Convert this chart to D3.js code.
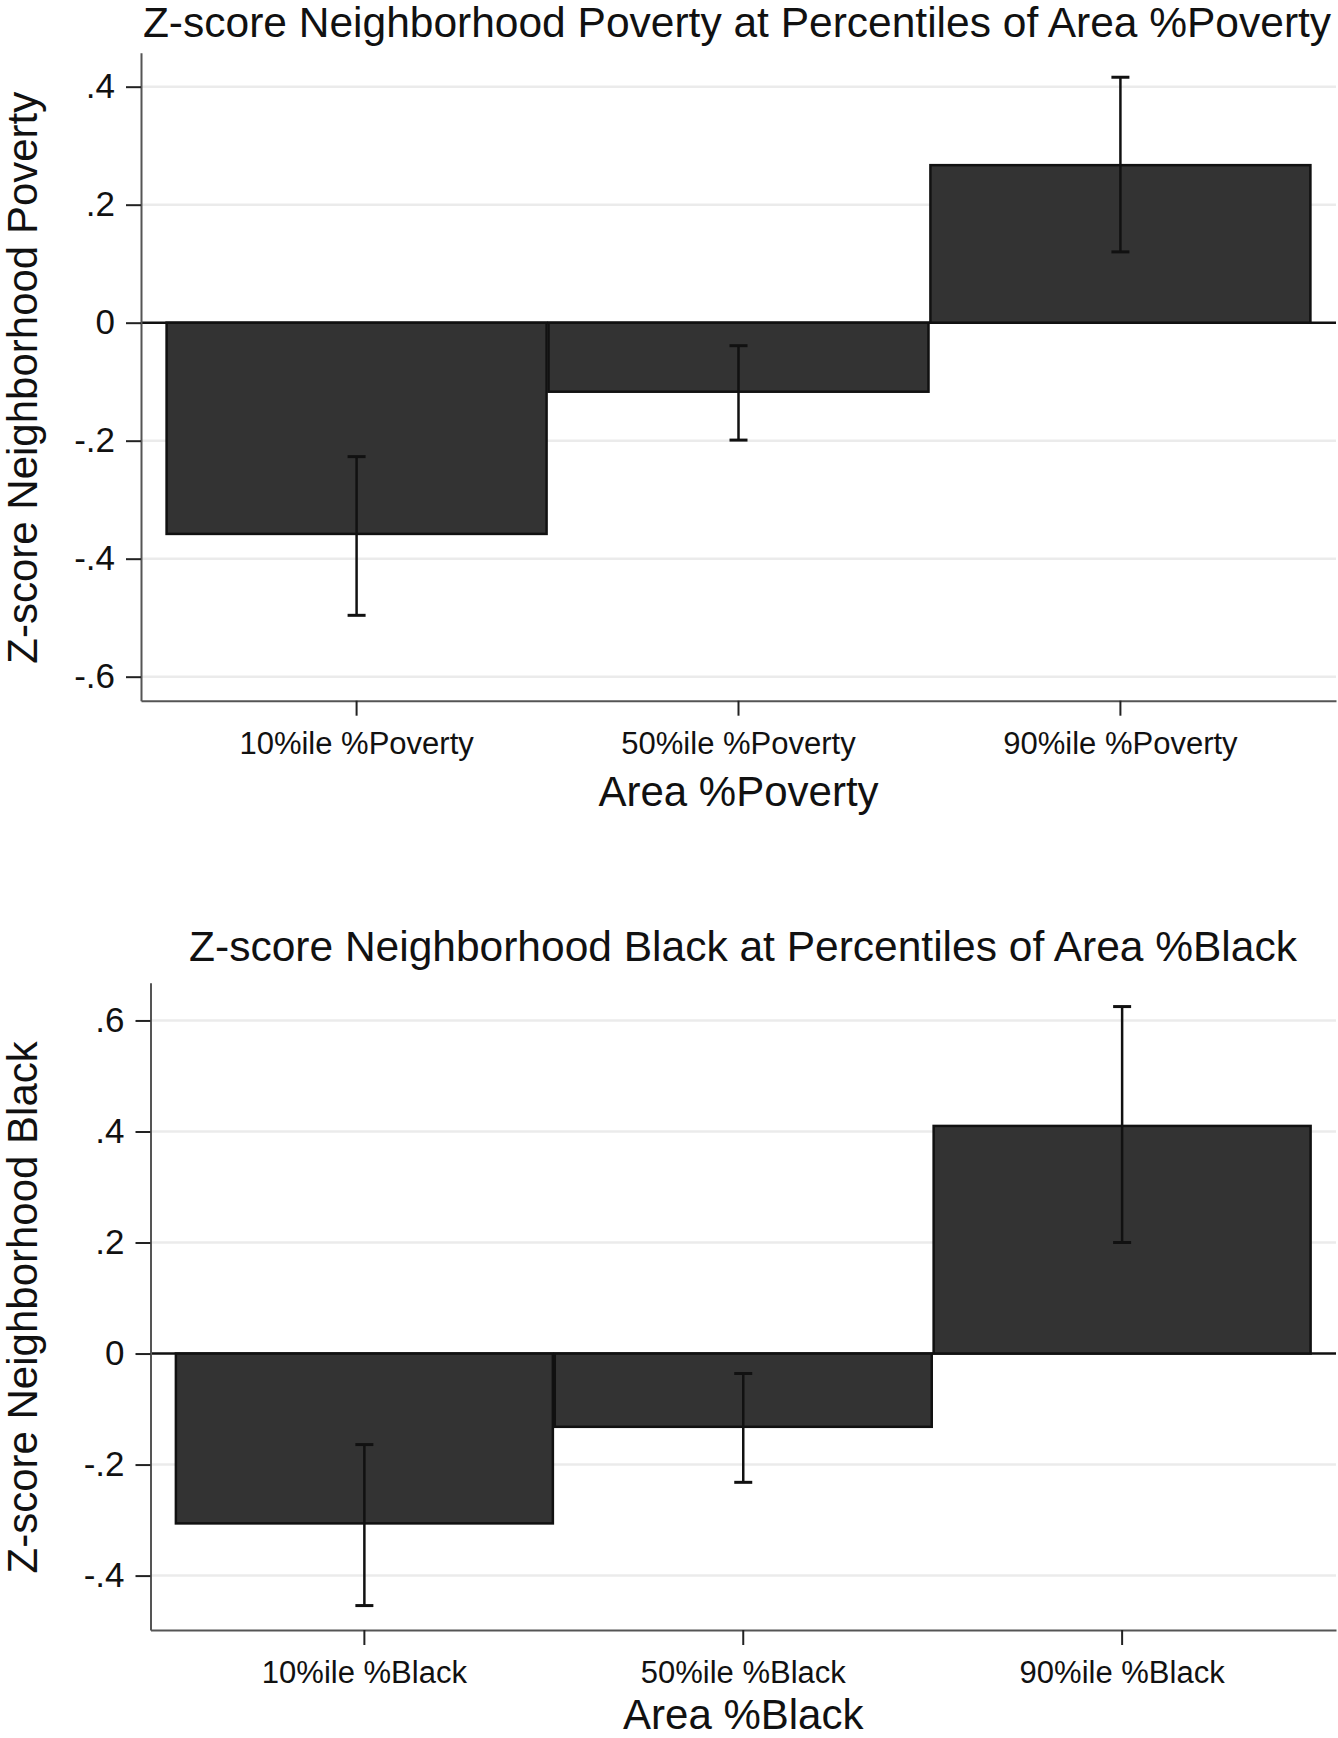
<!DOCTYPE html>
<html>
<head>
<meta charset="utf-8">
<script src="https://cdn.jsdelivr.net/npm/d3@7"></script>
<style>
  html, body { margin: 0; padding: 0; background: #fff; }
  svg { display: block; font-family: "Liberation Sans", Arial, sans-serif; }
</style>
</head>
<body>
<svg id="chart" width="1338" height="1738"></svg>
<script>
// ---- Data ----
const povertyCategories = ["10%ile %Poverty", "50%ile %Poverty", "90%ile %Poverty"];
const povertyEstimate = [-0.358, -0.117, 0.267];
const povertyLower = [-0.496, -0.199, 0.120];
const povertyUpper = [-0.227, -0.039, 0.416];
const povertyYTicks = [-0.6, -0.4, -0.2, 0, 0.2, 0.4];

const blackCategories = ["10%ile %Black", "50%ile %Black", "90%ile %Black"];
const blackEstimate = [-0.306, -0.132, 0.410];
const blackLower = [-0.454, -0.232, 0.200];
const blackUpper = [-0.164, -0.036, 0.625];
const blackYTicks = [-0.4, -0.2, 0, 0.2, 0.4, 0.6];

const povertyTitle = "Z-score Neighborhood Poverty at Percentiles of Area %Poverty";
const povertyYLabel = "Z-score Neighborhood Poverty";
const povertyXLabel = "Area %Poverty";
const blackTitle = "Z-score Neighborhood Black at Percentiles of Area %Black";
const blackYLabel = "Z-score Neighborhood Black";
const blackXLabel = "Area %Black";

// ---- Drawing ----
const svg = d3.select("#chart");
svg.append("rect").attr("width", 1338).attr("height", 1738).attr("fill", "#fff");

const fmt = v => v === 0 ? "0" : String(+v.toFixed(2)).replace("0.", ".");

function drawPanel(cfg) {
  const g = svg.append("g");
  const x = d3.scaleBand().domain(cfg.categories)
    .range([cfg.left, cfg.right]).paddingInner(0.005).paddingOuter(0.067);
  const y = d3.scaleLinear().domain(cfg.yDomain).range([cfg.bottom, cfg.top]);

  // gridlines
  g.append("g").selectAll("line").data(cfg.ticks.filter(t => t !== 0)).join("line")
    .attr("x1", cfg.left).attr("x2", cfg.right)
    .attr("y1", d => y(d)).attr("y2", d => y(d))
    .attr("stroke", "#ebebeb").attr("stroke-width", 2.5);

  // zero line
  g.append("line")
    .attr("x1", cfg.left).attr("x2", cfg.right)
    .attr("y1", y(0)).attr("y2", y(0))
    .attr("stroke", "#111").attr("stroke-width", 2.5);

  const data = cfg.categories.map((c, i) => ({c, v: cfg.est[i], lo: cfg.lo[i], hi: cfg.hi[i]}));

  // bars
  g.append("g").selectAll("rect").data(data).join("rect")
    .attr("x", d => x(d.c))
    .attr("width", x.bandwidth())
    .attr("y", d => Math.min(y(d.v), y(0)))
    .attr("height", d => Math.abs(y(d.v) - y(0)))
    .attr("fill", "#333333").attr("stroke", "#111").attr("stroke-width", 2.5);

  // error bars
  const eb = g.append("g").attr("stroke", "#111").attr("stroke-width", 2.5);
  const cx = d => x(d.c) + x.bandwidth() / 2;
  eb.selectAll("line.v").data(data).join("line").attr("class", "v")
    .attr("x1", cx).attr("x2", cx)
    .attr("y1", d => y(d.lo)).attr("y2", d => y(d.hi));
  eb.selectAll("line.t").data(data).join("line").attr("class", "t")
    .attr("x1", d => cx(d) - 9).attr("x2", d => cx(d) + 9)
    .attr("y1", d => y(d.hi)).attr("y2", d => y(d.hi)).attr("stroke-width", 3);
  eb.selectAll("line.b").data(data).join("line").attr("class", "b")
    .attr("x1", d => cx(d) - 9).attr("x2", d => cx(d) + 9)
    .attr("y1", d => y(d.lo)).attr("y2", d => y(d.lo)).attr("stroke-width", 3);

  // y axis
  const ya = g.append("g").attr("transform", `translate(${cfg.left},0)`)
    .call(d3.axisLeft(y).tickValues(cfg.ticks).tickFormat(fmt)
      .tickSize(15).tickSizeOuter(0).tickPadding(11));
  ya.select(".domain").attr("stroke", "#555").attr("stroke-width", 2);
  ya.selectAll(".tick line").attr("stroke", "#222").attr("stroke-width", 2);
  ya.selectAll(".tick text").attr("font-size", 35).attr("fill", "#111")
    .attr("font-family", "Liberation Sans, Arial, sans-serif");

  // x axis
  const xa = g.append("g").attr("transform", `translate(0,${cfg.bottom})`)
    .call(d3.axisBottom(x).tickSize(15).tickSizeOuter(0).tickPadding(16));
  xa.select(".domain").attr("stroke", "#555").attr("stroke-width", 2);
  xa.selectAll(".tick line").attr("stroke", "#222").attr("stroke-width", 2);
  xa.selectAll(".tick text").attr("font-size", 31).attr("fill", "#111")
    .attr("font-family", "Liberation Sans, Arial, sans-serif");

  // titles
  const mid = (cfg.left + cfg.right) / 2;
  g.append("text").attr("x", cfg.titleX).attr("y", cfg.titleY)
    .attr("text-anchor", "middle").attr("font-size", cfg.titleSize).attr("fill", "#111")
    .text(cfg.title);
  g.append("text").attr("x", mid).attr("y", cfg.xLabelY)
    .attr("text-anchor", "middle").attr("font-size", 42).attr("fill", "#111")
    .text(cfg.xLabel);
  g.append("text")
    .attr("transform", `translate(37,${(cfg.top + cfg.bottom) / 2 + 1}) rotate(-90)`)
    .attr("text-anchor", "middle").attr("font-size", 42).attr("fill", "#111")
    .text(cfg.yLabel);
}

drawPanel({
  categories: povertyCategories, est: povertyEstimate, lo: povertyLower, hi: povertyUpper,
  ticks: povertyYTicks, yDomain: [-0.6407, 0.4576],
  left: 141, right: 1336, top: 52.7, bottom: 700.7,
  title: povertyTitle, titleX: 737, titleY: 36.5, titleSize: 42.5,
  xLabel: povertyXLabel, xLabelY: 805.5, yLabel: povertyYLabel
});

drawPanel({
  categories: blackCategories, est: blackEstimate, lo: blackLower, hi: blackUpper,
  ticks: blackYTicks, yDomain: [-0.498, 0.668],
  left: 150.5, right: 1336, top: 982.7, bottom: 1630,
  title: blackTitle, titleX: 743, titleY: 961, titleSize: 42.5,
  xLabel: blackXLabel, xLabelY: 1729, yLabel: blackYLabel
});
</script>
</body>
</html>
